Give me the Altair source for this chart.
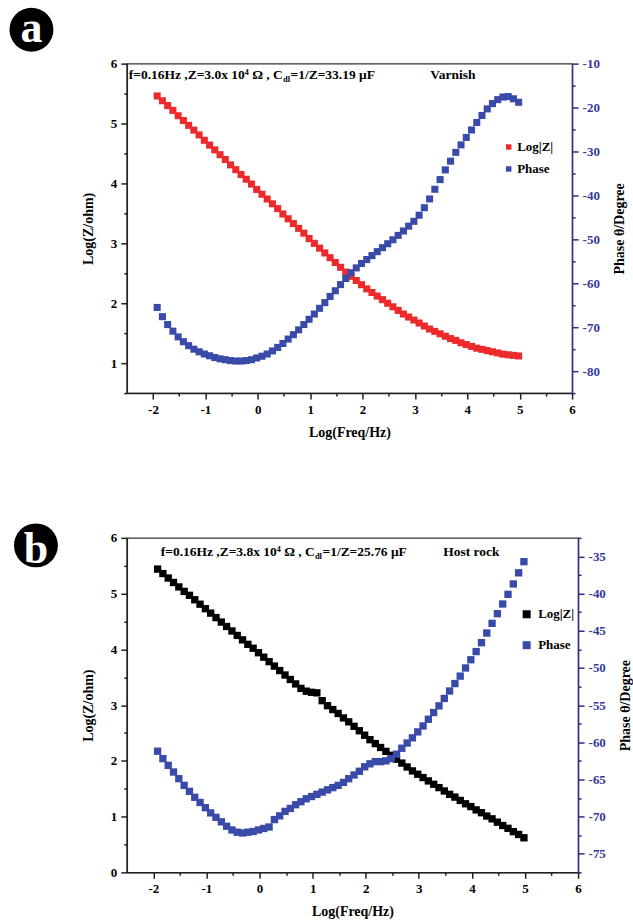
import altair as alt
import pandas as pd

# ---------------- data ----------------
log_freq = [-1.92, -1.82, -1.72, -1.62, -1.52, -1.42, -1.32, -1.22, -1.12, -1.02,
            -0.92, -0.82, -0.72, -0.62, -0.52, -0.42, -0.32, -0.22, -0.12, -0.02,
            0.08, 0.18, 0.28, 0.38, 0.48, 0.58, 0.68, 0.78, 0.88, 0.98,
            1.08, 1.18, 1.28, 1.38, 1.48, 1.58, 1.68, 1.78, 1.88, 1.98,
            2.08, 2.18, 2.28, 2.38, 2.48, 2.58, 2.68, 2.78, 2.88, 2.98,
            3.08, 3.18, 3.28, 3.38, 3.48, 3.58, 3.68, 3.78, 3.88, 3.98,
            4.08, 4.18, 4.28, 4.38, 4.48, 4.58, 4.68, 4.78, 4.88, 4.98]

a_logz = [5.46, 5.38, 5.30, 5.22, 5.13, 5.05, 4.97, 4.89, 4.81, 4.72,
          4.64, 4.56, 4.48, 4.40, 4.31, 4.23, 4.15, 4.07, 3.99, 3.90,
          3.82, 3.74, 3.66, 3.58, 3.49, 3.41, 3.33, 3.25, 3.17, 3.08,
          3.00, 2.92, 2.84, 2.76, 2.68, 2.60, 2.52, 2.45, 2.38, 2.31,
          2.24, 2.18, 2.12, 2.06, 2.00, 1.94, 1.88, 1.82, 1.77, 1.72,
          1.67, 1.62, 1.57, 1.53, 1.49, 1.45, 1.41, 1.38, 1.34, 1.31,
          1.28, 1.25, 1.23, 1.21, 1.19, 1.17, 1.15, 1.14, 1.13, 1.12]

a_phase = [-65.5, -67.6, -69.4, -70.9, -72.2, -73.3, -74.2, -75.0, -75.6, -76.1,
           -76.5, -76.9, -77.2, -77.4, -77.6, -77.7, -77.7, -77.6, -77.4, -77.0,
           -76.6, -76.1, -75.4, -74.6, -73.7, -72.7, -71.7, -70.6, -69.4, -68.2,
           -67.0, -65.7, -64.4, -63.0, -61.7, -60.3, -58.9, -57.6, -56.5, -55.5,
           -54.6, -53.7, -52.8, -51.9, -51.0, -50.1, -49.1, -48.1, -47.0, -45.9,
           -44.5, -42.8, -40.8, -38.6, -36.4, -34.2, -32.2, -30.2, -28.5, -26.8,
           -25.1, -23.4, -21.8, -20.3, -19.1, -18.2, -17.6, -17.5, -18.0, -18.8]

b_logz = [5.44, 5.36, 5.28, 5.20, 5.12, 5.04, 4.97, 4.89, 4.81, 4.73,
          4.65, 4.57, 4.49, 4.41, 4.33, 4.25, 4.17, 4.09, 4.02, 3.94,
          3.86, 3.78, 3.70, 3.62, 3.54, 3.46, 3.38, 3.30, 3.25, 3.23,
          3.22, 3.08, 2.99, 2.92, 2.85, 2.77, 2.70, 2.62, 2.54, 2.46,
          2.38, 2.31, 2.24, 2.17, 2.10, 2.03, 1.96, 1.89, 1.82, 1.76,
          1.70, 1.64, 1.58, 1.52, 1.46, 1.40, 1.35, 1.29, 1.23, 1.18,
          1.12, 1.07, 1.01, 0.96, 0.90, 0.84, 0.79, 0.73, 0.68, 0.62]

b_phase = [-61.2, -62.2, -63.1, -64.0, -64.9, -65.8, -66.6, -67.4, -68.1, -68.8,
           -69.5, -70.1, -70.7, -71.3, -71.8, -72.1, -72.2, -72.1, -72.0, -71.8,
           -71.6, -71.4, -70.4, -69.9, -69.3, -68.9, -68.4, -68.0, -67.6, -67.3,
           -67.0, -66.7, -66.4, -66.1, -65.8, -65.4, -64.9, -64.4, -63.9, -63.3,
           -62.9, -62.6, -62.6, -62.5, -62.2, -61.6, -60.8, -60.1, -59.4, -58.6,
           -57.8, -56.9, -56.0, -55.1, -54.1, -53.1, -52.1, -51.1, -50.0, -48.9,
           -47.8, -46.6, -45.3, -44.0, -42.7, -41.4, -40.1, -38.7, -37.2, -35.7]

series_names = ["Log|Z|", "Phase"]
annot_a = ["f=0.16Hz ,Z=3.0x 10\u2074 \u03a9 , C", "dl", "=1/Z=33.19 \u03bcF"]
annot_b = ["f=0.16Hz ,Z=3.8x 10\u2074 \u03a9 , C", "dl", "=1/Z=25.76 \u03bcF"]
sample_a = "Varnish"
sample_b = "Host rock"
x_title = "Log(Freq/Hz)"
yl_title = "Log(Z/ohm)"
yr_title = "Phase \u03b8/Degree"

x_ticks = [-2 + 0.5 * i for i in range(17)]
a_yl_ticks = [0.5 + 0.5 * i for i in range(12)]
b_yl_ticks = [0.5 * i for i in range(13)]
a_yr_ticks = [-85 + 5 * i for i in range(16)]
b_yr_ticks = [-77.5 + 2.5 * i for i in range(19)]

# ---------------- style ----------------
FONT = "Liberation Serif"
RED = "#EC2A2C"
BLUE = "#3A4AA8"
BLACK = "#000000"
NAVY = "#2C2F80"
NAVY_LBL = "#34389A"
AX = "#222222"

common_axis = dict(grid=False, labelFont=FONT, labelFontWeight="bold", labelFontSize=13,
                   titleFont=FONT, titleFontWeight="bold", titleFontSize=14,
                   titleColor=BLACK, labelOverlap=False, labelFlush=False,
                   domainWidth=1.5, tickWidth=1.5)


def cond(test, major, minor):
    return {"condition": {"test": test, "value": major}, "value": minor}


def panel(key, logz, phase, zcolor, width, height, yl_dom, yl_ticks, yr_dom, yr_ticks,
          yr_major, annot, sample, ann_xy, sample_x, legend_xy, sym_size, row_pad,
          label_off, letter, circle_xy, letter_y, xtitle_pad, msize):
    fld = "s" + key
    dz = pd.DataFrame({"x": log_freq, "v": logz, fld: series_names[0]})
    dp = pd.DataFrame({"x": log_freq, "v": phase, fld: series_names[1]})

    xenc = alt.X("x:Q",
                 scale=alt.Scale(domain=[-2.5, 6], nice=False, zero=False),
                 axis=alt.Axis(title=x_title, values=x_ticks,
                               labelExpr="datum.value % 1 === 0 ? '' + datum.value : ''",
                               tickSize=cond("datum.value % 1 === 0", 6, 3),
                               domainColor=AX, tickColor=AX, labelColor=BLACK,
                               labelPadding=4, titlePadding=xtitle_pad, **common_axis))
    color = alt.Color(fld + ":N",
                      scale=alt.Scale(domain=series_names, range=[zcolor, BLUE]),
                      legend=alt.Legend(title=None, orient="none",
                                        legendX=legend_xy[0], legendY=legend_xy[1],
                                        symbolType="square", symbolSize=sym_size,
                                        symbolStrokeWidth=0, symbolOpacity=1,
                                        labelFont=FONT, labelFontWeight="bold",
                                        labelFontSize=13, labelColor=BLACK,
                                        labelOffset=label_off, rowPadding=row_pad,
                                        padding=0))

    z_layer = alt.Chart(dz).mark_square(size=msize, opacity=1).encode(
        x=xenc,
        y=alt.Y("v:Q",
                scale=alt.Scale(domain=yl_dom, nice=False, zero=False),
                axis=alt.Axis(title=yl_title, orient="left", values=yl_ticks,
                              labelExpr="datum.value % 1 === 0 ? '' + datum.value : ''",
                              tickSize=cond("datum.value % 1 === 0", 6, 3),
                              domainColor=AX, tickColor=AX, labelColor=BLACK,
                              labelPadding=4, titlePadding=15, **common_axis)),
        color=color,
    )
    p_layer = alt.Chart(dp).mark_square(size=msize, opacity=1).encode(
        x=xenc,
        y=alt.Y("v:Q",
                scale=alt.Scale(domain=yr_dom, nice=False, zero=False),
                axis=alt.Axis(title=yr_title, orient="right", values=yr_ticks,
                              labelExpr="datum.value %% %d === 0 ? '' + datum.value : ''" % yr_major,
                              tickSize=cond("datum.value %% %d === 0" % yr_major, 6, 3),
                              domainColor=NAVY, tickColor=NAVY, labelColor=NAVY_LBL,
                              titleAngle=270, titleBaseline="top",
                              labelPadding=4, titlePadding=13,
                              **common_axis)),
        color=color,
    )

    one = pd.DataFrame({"k": [0]})
    txt = dict(font=FONT, fontWeight="bold", color=BLACK, align="left", baseline="middle")
    main_fs = 13.5
    # approximate widths of the annotation pieces (Times-like bold metrics)
    w1 = 11.40 * main_fs
    w_sub = 0.834 * 8.5
    t1 = alt.Chart(one).mark_text(fontSize=main_fs, **txt).encode(
        x=alt.value(ann_xy[0]), y=alt.value(ann_xy[1]), text=alt.value(annot[0]))
    t2 = alt.Chart(one).mark_text(fontSize=8.5, **txt).encode(
        x=alt.value(ann_xy[0] + w1 + 0.5), y=alt.value(ann_xy[1] + 4), text=alt.value(annot[1]))
    t3 = alt.Chart(one).mark_text(fontSize=main_fs, **txt).encode(
        x=alt.value(ann_xy[0] + w1 + w_sub + 1), y=alt.value(ann_xy[1]), text=alt.value(annot[2]))
    t4 = alt.Chart(one).mark_text(fontSize=main_fs, **txt).encode(
        x=alt.value(sample_x), y=alt.value(ann_xy[1]), text=alt.value(sample))

    circ = alt.Chart(one).mark_circle(size=1936, color=BLACK, opacity=1).encode(
        x=alt.value(circle_xy[0]), y=alt.value(circle_xy[1]))
    lett = alt.Chart(one).mark_text(font=FONT, fontWeight="bold", fontSize=44, color="white",
                                    align="center", baseline="alphabetic").encode(
        x=alt.value(circle_xy[0]), y=alt.value(letter_y), text=alt.value(letter))

    layers = [z_layer, p_layer, t1, t2, t3, t4, circ, lett]
    return alt.layer(*layers).resolve_scale(y="independent").properties(
        width=width, height=height)


# both plot areas share one left edge (page x ~125.5)
pa = panel("a", a_logz, a_phase, RED, 446, 330, [0.5, 6], a_yl_ticks, [-85, -10], a_yr_ticks,
           10, annot_a, sample_a, (2, 11), 304, (376, 77), 30, 8, 2,
           "a", (-95.5, -34), -22, 9, 50)
pb = panel("b", b_logz, b_phase, BLACK, 452, 335, [0, 6], b_yl_ticks, [-77.5, -32.5], b_yr_ticks,
           5, annot_b, sample_b, (34, 14), 317, (394, 70), 64, 17, 5,
           "b", (-91, 7.5), 25, 9, 54)

chart = alt.vconcat(pa, pb, spacing=82).resolve_scale(color="independent").properties(
    padding={"left": 8, "top": 5, "right": 0, "bottom": 0},
    background="white",
).configure_view(stroke="#333333", strokeWidth=1.2)

chart.save("out.html", embed_options={"renderer": "svg", "actions": False})
